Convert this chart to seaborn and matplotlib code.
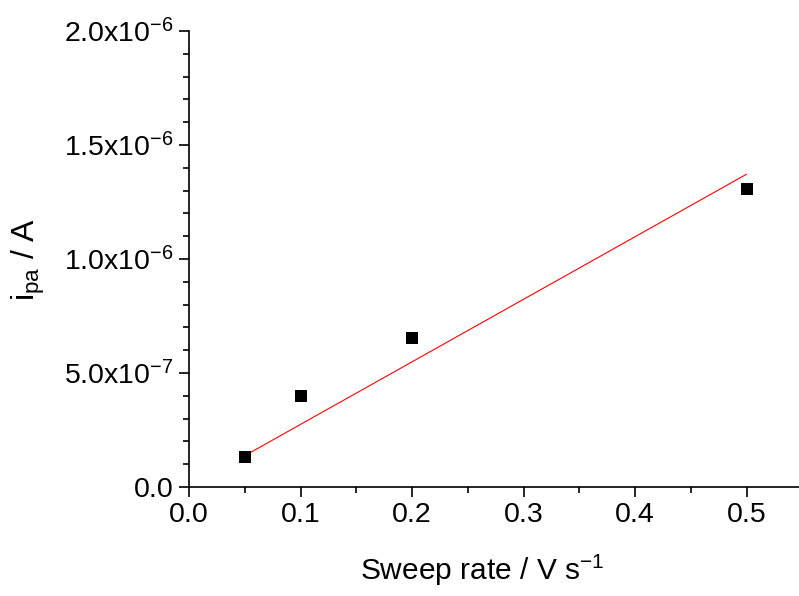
import numpy as np
import pandas as pd
import seaborn as sns
import matplotlib.pyplot as plt
from matplotlib.ticker import FuncFormatter, MultipleLocator

# sweep rates and anodic peak currents
sweep_rate = [0.05, 0.1, 0.2, 0.5]
i_pa = [1.3e-7, 4.0e-7, 6.55e-7, 1.305e-6]

df = pd.DataFrame({'rate': sweep_rate, 'ipa': i_pa})

# linear fit through origin
x = np.array(sweep_rate)
y = np.array(i_pa)
slope = (x * y).sum() / (x * x).sum()
fit = pd.DataFrame({'rate': [x.min(), x.max()]})
fit['ipa'] = slope * fit['rate']

sns.set_style('ticks', {'axes.edgecolor': 'black', 'text.color': 'black',
                        'axes.labelcolor': 'black', 'xtick.color': 'black',
                        'ytick.color': 'black'})
plt.rcParams['font.family'] = ['Liberation Sans', 'DejaVu Sans']
plt.rcParams['mathtext.fontset'] = 'custom'
plt.rcParams['mathtext.rm'] = 'Liberation Sans'
plt.rcParams['mathtext.it'] = 'Liberation Sans'
plt.rcParams['mathtext.default'] = 'regular'

fig = plt.figure(figsize=(7.99, 5.96), dpi=100)
ax = fig.add_axes([0.2366, 0.183, 0.7634, 0.765])

sns.lineplot(data=fit, x='rate', y='ipa', color='red', linewidth=0.8, ax=ax)
sns.scatterplot(data=df, x='rate', y='ipa', marker='s', color='black',
                s=75, edgecolor='none', ax=ax, zorder=3)

ax.set_xlim(0, 0.547)
ax.set_ylim(0, 2.0e-6)
ax.xaxis.set_major_locator(MultipleLocator(0.1))
ax.xaxis.set_minor_locator(MultipleLocator(0.05))
ax.yaxis.set_major_locator(MultipleLocator(5e-7))
ax.yaxis.set_minor_locator(MultipleLocator(1e-7))


def yfmt(v, pos):
    if abs(v) < 1e-12:
        return '0.0'
    exp = int(np.floor(np.log10(abs(v))))
    mant = v / 10 ** exp
    return '%.1fx10$^{%d}$' % (mant, exp)


ax.yaxis.set_major_formatter(FuncFormatter(yfmt))
ax.xaxis.set_major_formatter(FuncFormatter(lambda v, p: '%.1f' % v))

sns.despine(ax=ax)
for s in ['left', 'bottom']:
    ax.spines[s].set_linewidth(1.2)
ax.tick_params(which='major', direction='out', length=7, width=1.2,
               labelsize=20.5, pad=4)
ax.tick_params(which='minor', direction='out', length=4, width=1.2)

ax.set_xlabel('Sweep rate / V s$^{-1}$', fontsize=21.5, labelpad=18, x=0.48)
ax.set_ylabel('i$_{pa}$ / A', fontsize=23, labelpad=12)

fig.savefig('out.png', dpi=100)
